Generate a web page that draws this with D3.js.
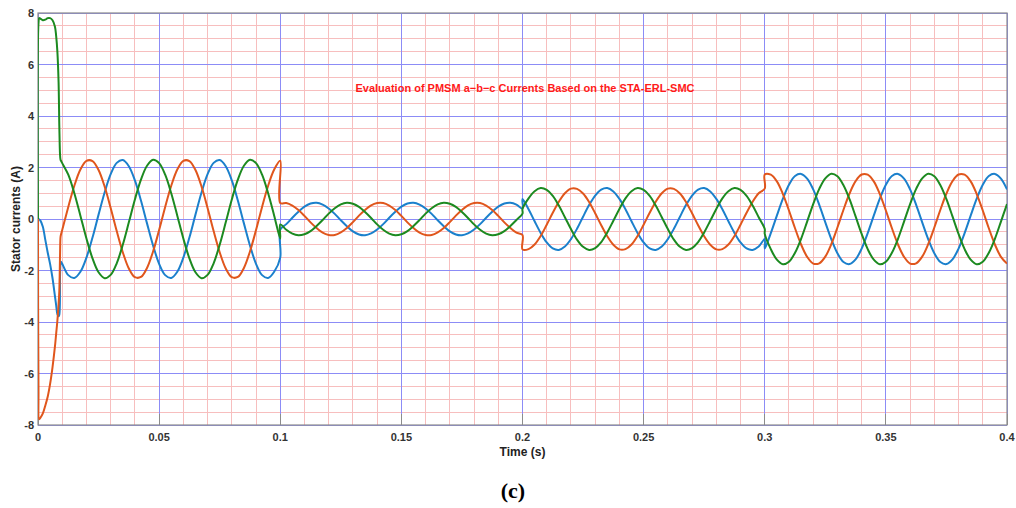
<!DOCTYPE html>
<html><head><meta charset="utf-8">
<script src="https://cdn.jsdelivr.net/npm/d3@7"></script>
<style>body{margin:0;background:#fff} svg{display:block}</style>
</head><body><svg id="chart" width="1016" height="508"></svg>
<script>
// ---------------- data ----------------
const time = [
  0, 0.0002, 0.0005, 0.001, 0.002, 0.003, 0.004, 0.005, 0.006, 0.007, 0.0075, 0.008, 0.0085, 0.0088, 0.0091, 0.0093, 0.0095, 0.01,
  0.0125, 0.015, 0.0175, 0.02, 0.0225, 0.025, 0.0275, 0.03, 0.0325, 0.035, 0.0375, 0.04, 0.0425, 0.045, 0.0475, 0.05,
  0.0525, 0.055, 0.0575, 0.06, 0.0625, 0.065, 0.0675, 0.07, 0.0725, 0.075, 0.0775, 0.08, 0.0825, 0.085, 0.0875, 0.09,
  0.0925, 0.095, 0.0975, 0.1,
  0.1, 0.1025, 0.105, 0.1075, 0.11, 0.1125, 0.115, 0.1175, 0.12, 0.1225, 0.125, 0.1275, 0.13, 0.1325, 0.135, 0.1375,
  0.14, 0.1425, 0.145, 0.1475, 0.15, 0.1525, 0.155, 0.1575, 0.16, 0.1625, 0.165, 0.1675, 0.17, 0.1725, 0.175, 0.1775,
  0.18, 0.1825, 0.185, 0.1875, 0.19, 0.1925, 0.195, 0.1975, 0.2,
  0.2, 0.2025, 0.205, 0.2075, 0.21, 0.2125, 0.215, 0.2175, 0.22, 0.2225, 0.225, 0.2275, 0.23, 0.2325, 0.235, 0.2375,
  0.24, 0.2425, 0.245, 0.2475, 0.25, 0.2525, 0.255, 0.2575, 0.26, 0.2625, 0.265, 0.2675, 0.27, 0.2725, 0.275, 0.2775,
  0.28, 0.2825, 0.285, 0.2875, 0.29, 0.2925, 0.295, 0.2975, 0.3,
  0.3, 0.3025, 0.305, 0.3075, 0.31, 0.3125, 0.315, 0.3175, 0.32, 0.3225, 0.325, 0.3275, 0.33, 0.3325, 0.335, 0.3375,
  0.34, 0.3425, 0.345, 0.3475, 0.35, 0.3525, 0.355, 0.3575, 0.36, 0.3625, 0.365, 0.3675, 0.37, 0.3725, 0.375, 0.3775,
  0.38, 0.3825, 0.385, 0.3875, 0.39, 0.3925, 0.395, 0.3975, 0.4
];

// phase a (blue)
const currentA = [
  0, 0, -0.02, -0.06, -0.3, -0.8, -1.3, -1.75, -2.3, -3.0, -3.35, -3.7, -3.78, -3.72, -2.2, -1.72, -1.66, -1.74,
  -2.18, -2.29, -2.05, -1.50, -0.72, 0.17, 1.03, 1.74, 2.18, 2.29, 2.05,
  1.50, 0.72, -0.17, -1.03, -1.74, -2.18, -2.29, -2.05, -1.50, -0.72, 0.17, 1.03, 1.74, 2.18, 2.29, 2.05,
  1.50, 0.72, -0.17, -1.03, -1.74, -2.18, -2.29, -2.05, -1.50,
  -0.41, -0.20, 0.05, 0.28, 0.48, 0.60, 0.63, 0.56,
  0.41, 0.20, -0.05, -0.28, -0.48, -0.60, -0.63, -0.56, -0.41, -0.20, 0.05, 0.28, 0.48, 0.60, 0.63, 0.56,
  0.41, 0.20, -0.05, -0.28, -0.48, -0.60, -0.63, -0.56, -0.41, -0.20, 0.05, 0.28, 0.48, 0.60, 0.63, 0.56,
  0.41,
  0.78, 0.38, -0.09, -0.54, -0.91, -1.14, -1.20, -1.07, -0.78, -0.38, 0.09, 0.54, 0.91, 1.14, 1.20, 1.07,
  0.78, 0.38, -0.09, -0.54, -0.91, -1.14, -1.20, -1.07, -0.78, -0.38, 0.09, 0.54, 0.91, 1.14, 1.20, 1.07,
  0.78, 0.38, -0.09, -0.54, -0.91, -1.14, -1.20, -1.07, -0.78,
  -1.15, -0.55, 0.13, 0.79, 1.33, 1.67, 1.75, 1.57,
  1.15, 0.55, -0.13, -0.79, -1.33, -1.67, -1.75, -1.57, -1.15, -0.55, 0.13, 0.79, 1.33, 1.67, 1.75, 1.57,
  1.15, 0.55, -0.13, -0.79, -1.33, -1.67, -1.75, -1.57, -1.15, -0.55, 0.13, 0.79, 1.33, 1.67, 1.75, 1.57,
  1.15
];

// phase b (orange)
const currentB = [
  0, -6.5, -7.78, -7.72, -7.55, -7.25, -6.9, -6.4, -5.75, -4.95, -4.45, -3.95, -3.3, -2.8, -1.4, -0.7, -0.6, -0.43,
  0.47, 1.29, 1.92, 2.26, 2.25, 1.90, 1.26, 0.43, -0.47, -1.29, -1.92,
  -2.26, -2.25, -1.90, -1.26, -0.43, 0.47, 1.29, 1.92, 2.26, 2.25, 1.90, 1.26, 0.43, -0.47, -1.29, -1.92,
  -2.26, -2.25, -1.90, -1.26, -0.43, 0.47, 1.29, 1.92, 2.26,
  0.62, 0.62, 0.52, 0.35, 0.12, -0.13, -0.35, -0.53,
  -0.62, -0.62, -0.52, -0.35, -0.12, 0.13, 0.35, 0.53, 0.62, 0.62, 0.52, 0.35, 0.12, -0.13, -0.35, -0.53,
  -0.62, -0.62, -0.52, -0.35, -0.12, 0.13, 0.35, 0.53, 0.62, 0.62, 0.52, 0.35, 0.12, -0.13, -0.35, -0.53,
  -0.62,
  -1.18, -1.17, -0.99, -0.66, -0.22, 0.24, 0.67, 1.00, 1.18, 1.17, 0.99, 0.66, 0.22, -0.24, -0.67, -1.00,
  -1.18, -1.17, -0.99, -0.66, -0.22, 0.24, 0.67, 1.00, 1.18, 1.17, 0.99, 0.66, 0.22, -0.24, -0.67, -1.00,
  -1.18, -1.17, -0.99, -0.66, -0.22, 0.24, 0.67, 1.00, 1.18,
  1.73, 1.72, 1.46, 0.97, 0.33, -0.36, -0.99, -1.47,
  -1.73, -1.72, -1.46, -0.97, -0.33, 0.36, 0.99, 1.47, 1.73, 1.72, 1.46, 0.97, 0.33, -0.36, -0.99, -1.47,
  -1.73, -1.72, -1.46, -0.97, -0.33, 0.36, 0.99, 1.47, 1.73, 1.72, 1.46, 0.97, 0.33, -0.36, -0.99, -1.47,
  -1.73
];

// phase c (green)
const currentC = [
  0, 7.6, 7.8, 7.78, 7.72, 7.74, 7.8, 7.8, 7.72, 7.47, 7.1, 6.5, 5.3, 3.6, 2.5, 2.3, 2.26, 2.17,
  1.72, 1.00, 0.13, -0.76, -1.53, -2.07, -2.30, -2.17, -1.72, -1.00, -0.13,
  0.76, 1.53, 2.07, 2.30, 2.17, 1.72, 1.00, 0.13, -0.76, -1.53, -2.07, -2.30, -2.17, -1.72, -1.00, -0.13,
  0.76, 1.53, 2.07, 2.30, 2.17, 1.72, 1.00, 0.13, -0.76,
  -0.21, -0.42, -0.57, -0.63, -0.59, -0.47, -0.27, -0.04,
  0.21, 0.42, 0.57, 0.63, 0.59, 0.47, 0.27, 0.04, -0.21, -0.42, -0.57, -0.63, -0.59, -0.47, -0.27, -0.04,
  0.21, 0.42, 0.57, 0.63, 0.59, 0.47, 0.27, 0.04, -0.21, -0.42, -0.57, -0.63, -0.59, -0.47, -0.27, -0.04,
  0.21,
  0.39, 0.80, 1.08, 1.20, 1.13, 0.90, 0.52, 0.07, -0.39, -0.80, -1.08, -1.20, -1.13, -0.90, -0.52, -0.07,
  0.39, 0.80, 1.08, 1.20, 1.13, 0.90, 0.52, 0.07, -0.39, -0.80, -1.08, -1.20, -1.13, -0.90, -0.52, -0.07,
  0.39, 0.80, 1.08, 1.20, 1.13, 0.90, 0.52, 0.07, -0.39,
  -0.58, -1.17, -1.58, -1.76, -1.66, -1.31, -0.77, -0.10,
  0.58, 1.17, 1.58, 1.76, 1.66, 1.31, 0.77, 0.10, -0.58, -1.17, -1.58, -1.76, -1.66, -1.31, -0.77, -0.10,
  0.58, 1.17, 1.58, 1.76, 1.66, 1.31, 0.77, 0.10, -0.58, -1.17, -1.58, -1.76, -1.66, -1.31, -0.77, -0.10,
  0.58
];

const xTickValues = [0, 0.05, 0.1, 0.15, 0.2, 0.25, 0.3, 0.35, 0.4];
const xTickLabels = ["0", "0.05", "0.1", "0.15", "0.2", "0.25", "0.3", "0.35", "0.4"];
const yTickValues = [-8, -6, -4, -2, 0, 2, 4, 6, 8];
const yTickLabels = ["-8", "-6", "-4", "-2", "0", "2", "4", "6", "8"];
const titleText = "Evaluation of PMSM a\u2212b\u2212c Currents Based on the STA-ERL-SMC";
const xLabel = "Time (s)";
const yLabel = "Stator currents (A)";
const panelLabel = "(c)";

// ---------------- drawing ----------------
const svg = d3.select("#chart");
const W = 1016, H = 508;
const m = {left: 38, right: 9, top: 13, bottom: 83};
const x = d3.scaleLinear().domain([0, 0.4]).range([m.left, W - m.right]);
const y = d3.scaleLinear().domain([-8, 8]).range([H - m.bottom, m.top]);
const font = "'Liberation Sans', Arial, Helvetica, sans-serif";

svg.append("rect").attr("width", W).attr("height", H).attr("fill", "#fff");

const g = svg.append("g");
// minor grid
g.append("g").selectAll("line").data(x.ticks(40)).join("line")
  .attr("x1", d => x(d)).attr("x2", d => x(d)).attr("y1", y(8)).attr("y2", y(-8))
  .attr("stroke", "#f7bebe").attr("stroke-width", 1).attr("shape-rendering", "crispEdges");
g.append("g").selectAll("line").data(y.ticks(32)).join("line")
  .attr("y1", d => y(d)).attr("y2", d => y(d)).attr("x1", x(0)).attr("x2", x(0.4))
  .attr("stroke", "#f7bebe").attr("stroke-width", 1).attr("shape-rendering", "crispEdges");
// major grid
g.append("g").selectAll("line").data(xTickValues).join("line")
  .attr("x1", d => x(d)).attr("x2", d => x(d)).attr("y1", y(8)).attr("y2", y(-8))
  .attr("stroke", "#8c8cf6").attr("stroke-width", 1).attr("shape-rendering", "crispEdges");
g.append("g").selectAll("line").data(yTickValues).join("line")
  .attr("y1", d => y(d)).attr("y2", d => y(d)).attr("x1", x(0)).attr("x2", x(0.4))
  .attr("stroke", "#8c8cf6").attr("stroke-width", 1).attr("shape-rendering", "crispEdges");

// ticks (inward, gray)
g.append("g").selectAll("line").data(xTickValues).join("line")
  .attr("x1", d => x(d)).attr("x2", d => x(d)).attr("y1", y(-8)).attr("y2", y(-8) - 11)
  .attr("stroke", "#8c8c8c").attr("stroke-width", 1).attr("shape-rendering", "crispEdges");

// frame
svg.append("rect").attr("x", x(0)).attr("y", y(8)).attr("width", x(0.4) - x(0)).attr("height", y(-8) - y(8))
  .attr("fill", "none").attr("stroke", "#8c8c8c").attr("stroke-width", 1.2);

// clip
svg.append("clipPath").attr("id", "clip").append("rect")
  .attr("x", x(0)).attr("y", y(8) - 2).attr("width", x(0.4) - x(0)).attr("height", y(-8) - y(8) + 4);

const series = [
  {name: "a", values: currentA, color: "#1b80cc"},
  {name: "b", values: currentB, color: "#e0561c"},
  {name: "c", values: currentC, color: "#1c8a20"}
];
const line = d3.line().curve(d3.curveCatmullRom.alpha(0.5));
svg.append("g").attr("clip-path", "url(#clip)").selectAll("path").data(series).join("path")
  .attr("d", s => line(time.map((t, i) => [x(t), y(s.values[i])])))
  .attr("fill", "none").attr("stroke", s => s.color).attr("stroke-width", 2)
  .attr("stroke-linejoin", "round");

// tick labels
svg.append("g").selectAll("text").data(xTickValues).join("text")
  .attr("x", d => x(d)).attr("y", y(-8) + 16).attr("text-anchor", "middle")
  .attr("font-family", font).attr("font-weight", "bold").attr("font-size", 11).attr("fill", "#333")
  .text((d, i) => xTickLabels[i]);
svg.append("g").selectAll("text").data(yTickValues).join("text")
  .attr("x", x(0) - 4).attr("y", d => y(d) + 4).attr("text-anchor", "end")
  .attr("font-family", font).attr("font-weight", "bold").attr("font-size", 11).attr("fill", "#333")
  .text((d, i) => yTickLabels[i]);

// axis labels
svg.append("text").attr("x", x(0.2)).attr("y", 456).attr("text-anchor", "middle")
  .attr("font-family", font).attr("font-weight", "bold").attr("font-size", 12).attr("fill", "#222")
  .text(xLabel);
svg.append("text").attr("transform", `translate(20,${y(0)}) rotate(-90)`).attr("text-anchor", "middle")
  .attr("font-family", font).attr("font-weight", "bold").attr("font-size", 12).attr("fill", "#222")
  .text(yLabel);

// title inside the plot
svg.append("text").attr("x", 525).attr("y", 92).attr("text-anchor", "middle")
  .attr("font-family", font).attr("font-weight", "bold").attr("font-size", 11).attr("fill", "#ff1a1a")
  .text(titleText);

// panel label
svg.append("text").attr("x", 513).attr("y", 498).attr("text-anchor", "middle")
  .attr("font-family", "'Liberation Serif', 'Times New Roman', serif").attr("font-weight", "bold")
  .attr("font-size", 22).attr("fill", "#000")
  .text(panelLabel);
</script>
</body></html>
